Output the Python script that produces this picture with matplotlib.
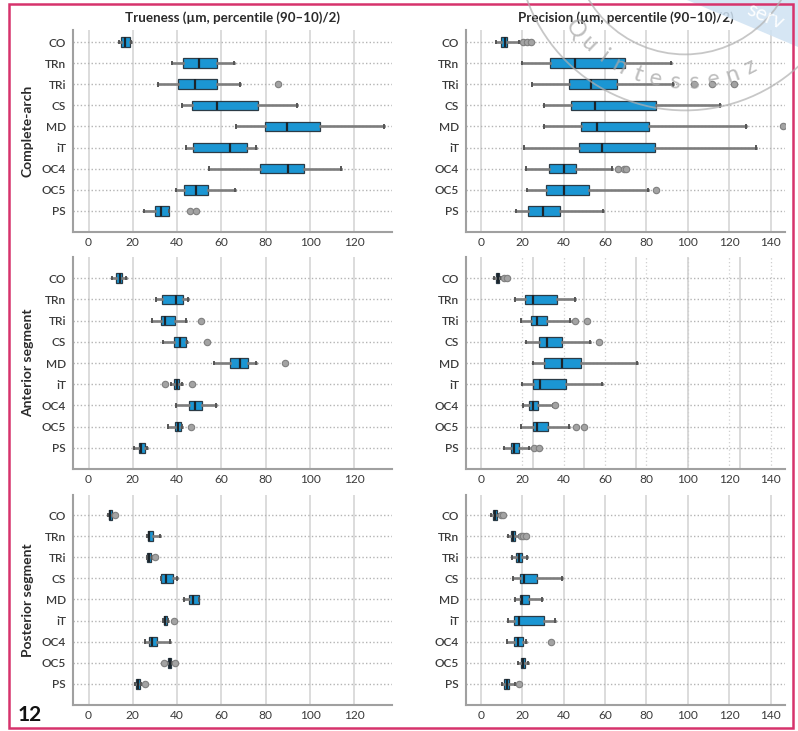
import numpy as np
import matplotlib
matplotlib.use("Agg")
import matplotlib.pyplot as plt
from matplotlib.patches import Rectangle, Polygon, Circle

plt.rcParams['font.family'] = ['Lato', 'DejaVu Sans']

categories = ["CO", "TRn", "TRi", "CS", "MD", "iT", "OC4", "OC5", "PS"]
col_titles = ["Trueness (µm, percentile (90–10)/2)", "Precision (µm, percentile (90–10)/2)"]
row_titles = ["Complete-arch", "Anterior segment", "Posterior segment"]
left_ticks = [0, 20, 40, 60, 80, 100, 120]
right_ticks = [0, 20, 40, 60, 80, 100, 120, 140]
extra_grid_mid_right = [25, 50, 75, 100, 125]

# Complete-arch, trueness
ca_true_lo = [13.7, 37.5, 31.3, 42.0, 66.8, 44.2, 54.3, 39.7, 25.0]
ca_true_q1 = [14.5, 42.6, 40.3, 46.9, 79.7, 47.1, 77.2, 43.3, 29.9]
ca_true_med = [16.3, 49.8, 48.1, 58.1, 89.4, 63.8, 90.0, 48.6, 32.9]
ca_true_q3 = [18.6, 57.8, 57.8, 76.6, 104.3, 71.6, 97.2, 53.8, 36.4]
ca_true_hi = [19.2, 65.6, 68.3, 93.9, 133.3, 75.7, 113.8, 66.0, 36.4]
ca_true_fl = [[], [], [85.5], [], [], [], [], [], [45.7, 48.7]]

# Complete-arch, precision
ca_prec_lo = [7.3, 19.9, 24.8, 30.2, 30.6, 20.7, 21.8, 22.3, 17.0]
ca_prec_q1 = [9.4, 33.2, 42.4, 43.5, 48.2, 47.4, 32.8, 31.5, 22.5]
ca_prec_med = [11.5, 45.5, 53.4, 55.0, 56.3, 58.7, 40.1, 40.1, 29.9]
ca_prec_q3 = [12.6, 69.7, 65.7, 84.6, 81.2, 84.3, 45.9, 52.1, 38.0]
ca_prec_hi = [18.1, 91.7, 92.7, 115.7, 128.1, 132.8, 63.1, 80.9, 59.0]
ca_prec_fl = [[20.5, 22.2, 24.3], [], [103.0, 111.5, 122.1], [], [146.1], [], [66.0, 68.9, 70.2], [84.6], []]

# Anterior segment, trueness
an_true_lo = [10.4, 30.5, 28.7, 33.7, 56.5, 37.3, 39.5, 35.9, 20.6]
an_true_q1 = [12.6, 33.1, 32.5, 38.6, 63.7, 38.6, 45.2, 39.1, 22.7]
an_true_med = [14.0, 39.5, 34.4, 41.5, 68.3, 40.0, 48.1, 40.3, 23.9]
an_true_q3 = [15.3, 42.5, 39.1, 43.9, 72.2, 41.0, 51.4, 41.9, 25.4]
an_true_hi = [16.7, 44.8, 44.1, 44.5, 75.5, 42.4, 57.7, 42.3, 26.5]
an_true_fl = [[], [], [50.8], [53.4], [88.6], [34.7, 46.5], [], [46.3], []]

# Anterior segment, precision
an_prec_lo = [6.1, 16.2, 19.4, 21.5, 25.1, 19.7, 20.5, 19.4, 11.0]
an_prec_q1 = [7.3, 21.2, 23.9, 28.0, 30.2, 25.2, 23.1, 25.2, 14.6]
an_prec_med = [8.1, 25.2, 27.2, 32.0, 39.1, 28.3, 25.1, 27.2, 15.8]
an_prec_q3 = [8.9, 36.9, 32.0, 39.3, 48.2, 41.3, 27.7, 32.5, 18.1]
an_prec_hi = [9.5, 45.3, 43.2, 52.6, 75.2, 58.7, 34.8, 42.5, 23.1]
an_prec_fl = [[11.3, 12.4], [], [45.4, 51.0], [56.9], [], [], [35.7], [46.1, 49.8], [25.4, 28.0]]

# Posterior segment, trueness
po_true_lo = [8.7, 26.5, 26.2, 32.6, 42.9, 33.7, 25.7, 35.5, 21.2]
po_true_q1 = [9.4, 26.7, 26.6, 32.9, 45.4, 34.1, 27.2, 35.9, 21.6]
po_true_med = [9.9, 27.4, 27.2, 35.0, 47.2, 34.6, 28.7, 36.7, 22.4]
po_true_q3 = [10.5, 29.0, 28.4, 38.0, 49.9, 35.5, 31.0, 37.4, 23.2]
po_true_hi = [11.0, 32.2, 28.8, 40.1, 49.9, 35.8, 36.7, 37.9, 23.6]
po_true_fl = [[12.0], [], [29.8], [], [], [38.5], [], [34.0, 39.2], [25.3]]

# Posterior segment, precision
po_prec_lo = [4.8, 13.1, 14.9, 15.2, 16.2, 12.9, 12.4, 17.8, 10.2]
po_prec_q1 = [5.8, 14.4, 16.7, 18.6, 18.8, 15.7, 16.0, 19.1, 11.3]
po_prec_med = [6.7, 15.5, 18.1, 20.7, 20.0, 18.1, 18.0, 20.2, 12.3]
po_prec_q3 = [7.6, 16.5, 19.9, 27.2, 23.4, 30.2, 20.5, 21.4, 13.7]
po_prec_hi = [8.5, 18.3, 22.3, 39.3, 29.3, 35.6, 21.8, 22.6, 16.2]
po_prec_fl = [[9.7, 10.8], [19.4, 20.5, 21.5], [], [], [], [], [33.6], [], [18.3]]

panels = [
    [(ca_true_lo, ca_true_q1, ca_true_med, ca_true_q3, ca_true_hi, ca_true_fl),
     (ca_prec_lo, ca_prec_q1, ca_prec_med, ca_prec_q3, ca_prec_hi, ca_prec_fl)],
    [(an_true_lo, an_true_q1, an_true_med, an_true_q3, an_true_hi, an_true_fl),
     (an_prec_lo, an_prec_q1, an_prec_med, an_prec_q3, an_prec_hi, an_prec_fl)],
    [(po_true_lo, po_true_q1, po_true_med, po_true_q3, po_true_hi, po_true_fl),
     (po_prec_lo, po_prec_q1, po_prec_med, po_prec_q3, po_prec_hi, po_prec_fl)],
]

W, H = 798, 731
fig = plt.figure(figsize=(W / 100, H / 100), dpi=100)

col_x = [(73, 392), (466, 785)]
row_y = [(30, 232), (257, 469), (495, 705)]
row_ytop = [-0.57, -1.0, -0.95]
xlims = [(-7, 137), (-7.3, 147)]

BOX = '#1b96d3'
for r in range(3):
    for c in range(2):
        x0, x1 = col_x[c]
        y0, y1 = row_y[r]
        ax = fig.add_axes([x0 / W, 1 - y1 / H, (x1 - x0) / W, (y1 - y0) / H])
        lo, q1, med, q3, hi, fl = panels[r][c]
        stats = []
        for i, name in enumerate(categories):
            stats.append(dict(label=name, whislo=lo[i], q1=q1[i], med=med[i],
                              q3=q3[i], whishi=hi[i], fliers=fl[i]))
        ticks = left_ticks if c == 0 else right_ticks
        # grid
        if r == 1 and c == 1:
            for t in [0] + extra_grid_mid_right:
                ax.axvline(t, color='#d9d9d9', lw=1.4, zorder=0)
            for t in ticks[1:]:
                ax.axvline(t, color='#cfcfcf', lw=0.9, ls=(0, (1, 2)), zorder=0)
        else:
            for t in ticks:
                ax.axvline(t, color='#dcdcdc', lw=1.4, zorder=0)
        for i in range(len(categories)):
            ax.axhline(i, color='#b4b4b4', lw=1.0, ls=(0, (1, 1.6)), zorder=0.5)
        ax.bxp(stats, positions=range(len(categories)), orientation='horizontal',
               widths=0.45, patch_artist=True, showfliers=True,
               boxprops=dict(facecolor=BOX, edgecolor='#2b3b46', linewidth=0.9),
               medianprops=dict(color='#1c252b', linewidth=1.6),
               whiskerprops=dict(color='#7d7d7d', linewidth=1.9),
               capprops=dict(color='#555555', linewidth=1.4),
               capwidths=0.12,
               flierprops=dict(marker='o', markersize=4.6, markerfacecolor='#a3a3a3',
                               markeredgecolor='#7f7f7f', markeredgewidth=0.8))
        ax.set_xlim(*xlims[c])
        ax.set_ylim(len(categories) - 1 + 1.0, row_ytop[r])
        ax.set_xticks(ticks)
        ax.set_xticklabels([str(t) for t in ticks])
        ax.set_yticks(range(len(categories)))
        ax.set_yticklabels(categories)
        ax.tick_params(axis='both', length=0, labelsize=8.6, colors='#3a3a3a')
        ax.tick_params(axis='y', pad=5)
        ax.tick_params(axis='x', pad=3.5)
        for lab in ax.get_yticklabels():
            lab.set_fontweight('semibold')
        for s in ['top', 'right']:
            ax.spines[s].set_visible(False)
        for s in ['left', 'bottom']:
            ax.spines[s].set_color('#a0a0a0')
            ax.spines[s].set_linewidth(1.5)
        ax.set_facecolor('none')
        if r == 0:
            ax.set_title(col_titles[c], fontsize=9.6, fontweight='bold', color='#2a2a2a', pad=6)
        if c == 0:
            fig.text(28 / W, 1 - ((y0 + y1) / 2) / H, row_titles[r], rotation=90,
                     ha='center', va='center', fontsize=10, fontweight='bold', color='#2a2a2a')

# overlay: border, figure number, watermark
ov = fig.add_axes([0, 0, 1, 1], zorder=10)
ov.set_xlim(0, W)
ov.set_ylim(H, 0)
ov.axis('off')
ov.patch.set_alpha(0)
ov.add_patch(Polygon([(687, 0), (798, 0), (798, 47)], closed=True,
                     facecolor='#cfe2f3', edgecolor='none', alpha=0.85))
ov.add_patch(Rectangle((9, 4), 784, 724, fill=False, edgecolor='#d6336c', lw=1.8))
ov.text(30, 715, "12", ha='center', va='center', fontsize=15, fontweight='bold', color='#111111')

cx, cy = 685, -57.6
for rad in (112, 168):
    ov.add_patch(Circle((cx, cy), rad, fill=False, edgecolor='#b0b0b0', lw=1.3, alpha=0.7))
word = "Quintessenz"
phis = np.linspace(218.5, 297.5, len(word))
for ch, phi in zip(word, phis):
    pr = np.deg2rad(phi)
    px = cx + 140 * np.cos(pr)
    py = cy - 140 * np.sin(pr)
    ov.text(px, py, ch, rotation=phi + 90, ha='center', va='center', fontsize=17,
            color='#a8a8a8', alpha=0.75, rotation_mode='anchor')
ov.text(765, 16, "serv", rotation=-24, ha='center', va='center', fontsize=15,
        color='white', alpha=0.95, rotation_mode='anchor')

fig.savefig("out.png", dpi=100)
